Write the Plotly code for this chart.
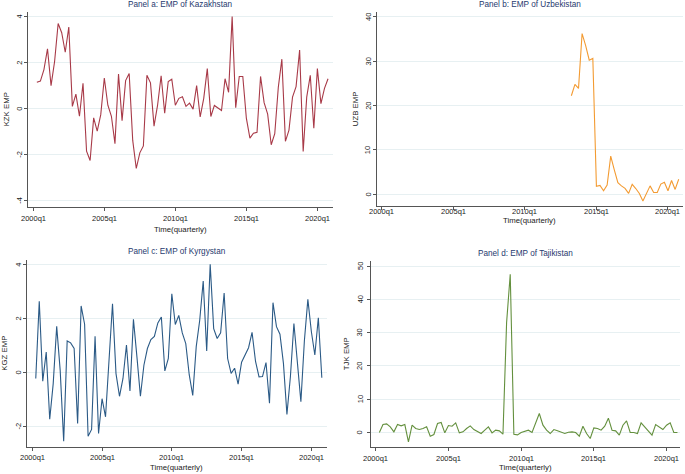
import plotly.graph_objects as go

# ---------------- data ----------------
quarters = [f"{y}q{q}" for y in range(2000, 2021) for q in range(1, 5)]  # index 0 = 2000q1
tick_labels = ["2000q1", "2005q1", "2010q1", "2015q1", "2020q1"]

kzk_emp = [1.15, 1.2, 1.7, 2.6, 1.0, 2.05, 3.7, 3.3, 2.45, 3.55,
           0.1, 0.63, -0.33, 1.1, -1.85, -2.25, -0.4, -0.98, -0.26, 1.33,
           0.15, -0.33, -1.52, 1.5, -0.52, 1.22, 1.53, -1.38, -2.6, -1.92,
           -1.62, 1.45, 1.12, -0.76, 0.15, 1.43, -0.2, 1.18, 1.28, 0.15,
           0.45, 0.52, 0.1, 0.24, -0.02, 1.0, -0.36, 0.45, 1.74, -0.34,
           0.14, 0.03, -0.08, 1.3, 0.71, 4.0, 0.04, 1.4, 1.4, -0.41,
           -1.28, -1.07, -1.03, 1.4, 0.26, -0.24, -1.57, -1.09, 0.93, 2.15,
           -1.42, -0.93, 0.5, 0.96, 2.55, -1.86, 0.5, 1.45, -0.85, 1.74,
           0.22, 0.88, 1.3]

uzb_emp = [22.2, 24.75, 23.85, 36.2, 33.5, 30.2, 30.6, 1.8, 2.0, 0.8,
           2.1, 8.6, 5.5, 2.6, 1.9, 1.35, 0.2, 2.25, 1.3, 0.2,
           -1.5, 0.2, 1.9, 0.4, 0.4, 2.3, 2.7, 0.8, 3.1, 1.1, 3.4]
uzb_start = quarters.index("2013q2")

kgz_emp = [-0.23, 2.63, -0.33, 0.75, -1.74, -0.42, 1.7, 0.07, -2.56, 1.16,
           1.09, 0.88, -1.9, 2.46, 1.78, -2.37, -2.12, 1.33, -2.27, -0.98,
           -1.65, 0.63, 2.54, -0.05, -0.89, -0.23, 1.01, -0.69, 1.96, 0.57,
           -0.89, 0.26, 0.88, 1.21, 1.33, 1.83, 2.05, 0.05, 0.51, 2.91,
           1.77, 2.11, 1.46, 1.06, -0.1, -0.86, 0.95, 1.93, 3.38, 0.79,
           4.0, 1.62, 1.25, 1.46, 2.94, 0.51, -0.04, 0.15, -0.44, 0.37,
           0.64, 0.91, 1.48, 0.4, -0.17, -0.16, 0.36, -1.15, 2.58, 1.69,
           1.41, 0.33, -1.56, -0.16, 1.81, 0.4, -1.09, 1.16, 2.7, 1.51,
           0.64, 2.02, -0.2]

tjk_emp = [0.0, 2.4, 2.6, 1.7, 0.2, 2.4, 2.0, 2.4, -2.8, 2.2,
           1.2, 0.9, 1.2, 1.7, -1.1, -0.6, 2.7, 3.0, -0.1, 2.1,
           1.9, 2.9, -0.1, 0.2, 1.2, 2.0, 0.9, 0.2, -0.3, 0.7,
           1.7, -0.1, 0.7, 0.5, -0.5, 33.0, 47.5, -0.5, -0.7, 0.0,
           0.4, 0.7, 0.0, 2.8, 5.7, 2.2, 0.7, -0.3, 0.9, 0.5,
           0.0, -0.3, 0.1, 0.2, 0.0, -1.1, 1.9, -0.3, -1.8, 1.4,
           1.2, 0.7, 1.9, 4.3, 0.7, 0.5, -0.8, 2.2, 3.5, 0.0,
           0.0, -0.3, 2.9, 1.7, 0.7, -0.8, 2.4, 1.7, 0.9, 2.2,
           2.9, 0.0, 0.0]
main_start = quarters.index("2000q2")

titles = ["Panel a: EMP of Kazakhstan", "Panel b: EMP of Uzbekistan",
          "Panel c: EMP of Kyrgystan", "Panel d: EMP of Tajikistan"]
ytitles = ["KZK EMP", "UZB EMP", "KGZ EMP", "TJK EMP"]
xtitle = "Time(quarterly)"

# ---------------- layout geometry (pixels) ----------------
W, H = 685, 474
FONT = "Liberation Sans, Arial, sans-serif"

panels = [
    dict(x0=28.0, x1=333.0, t0=-1.49, t1=84.4, ytop=12.0, ybot=206.7, yr=[-4.26, 4.2],
         yt=[-4, -2, 0, 2, 4], color="#a83a48",
         ylab_x=20.0, ytit_x=6.0, xlab_y=218.3, xtit_y=229.0, tit_y=5.0),
    dict(x0=376.7, x1=683.0, t0=-1.4, t1=84.2, ytop=12.0, ybot=206.3, yr=[-2.7, 41.06],
         yt=[0, 10, 20, 30, 40], color="#f39b32",
         ylab_x=368.3, ytit_x=355.0, xlab_y=211.5, xtit_y=220.5, tit_y=4.5),
    dict(x0=26.7, x1=326.7, t0=-1.6, t1=84.4, ytop=260.3, ybot=447.0, yr=[-2.77, 4.15],
         yt=[-2, 0, 2, 4], color="#2b5a86",
         ylab_x=18.3, ytit_x=5.0, xlab_y=457.7, xtit_y=467.0, tit_y=252.0),
    dict(x0=371.0, x1=680.0, t0=-1.3, t1=83.7, ytop=261.0, ybot=446.7, yr=[-4.26, 51.5],
         yt=[0, 10, 20, 30, 40, 50], color="#64903e",
         ylab_x=360.0, ytit_x=347.3, xlab_y=458.0, xtit_y=467.0, tit_y=253.5),
]

series = [
    (list(range(main_start, main_start + len(kzk_emp))), kzk_emp),
    (list(range(uzb_start, uzb_start + len(uzb_emp))), uzb_emp),
    (list(range(main_start, main_start + len(kgz_emp))), kgz_emp),
    (list(range(main_start, main_start + len(tjk_emp))), tjk_emp),
]

fig = go.Figure()
layout = dict(
    width=W, height=H, margin=dict(l=0, r=0, t=0, b=0),
    paper_bgcolor="white", plot_bgcolor="white", showlegend=False,
    font=dict(family=FONT, size=7.5, color="#222222"),
)
annotations = []
tickvals = [quarters.index(lbl) for lbl in tick_labels]

for i, (p, (xs, ys), title, ytit) in enumerate(zip(panels, series, titles, ytitles)):
    n = "" if i == 0 else str(i + 1)
    fig.add_trace(go.Scatter(x=xs, y=ys, mode="lines",
                             line=dict(color=p["color"], width=1.1),
                             xaxis="x" + n, yaxis="y" + n,
                             hovertext=[quarters[k] for k in xs]))
    layout["xaxis" + n] = dict(
        domain=[p["x0"] / W, p["x1"] / W], range=[p["t0"], p["t1"]],
        anchor="y" + n, tickvals=tickvals, ticktext=tick_labels,
        showline=True, linecolor="#555555", linewidth=1,
        ticks="outside", ticklen=3, tickcolor="#555555",
        showgrid=False, zeroline=False, showticklabels=False, fixedrange=True)
    layout["yaxis" + n] = dict(
        domain=[1 - p["ybot"] / H, 1 - p["ytop"] / H], range=p["yr"],
        anchor="x" + n, tickvals=p["yt"],
        showline=True, linecolor="#555555", linewidth=1,
        ticks="outside", ticklen=3, tickcolor="#555555",
        showgrid=True, gridcolor="#e7f0f2", gridwidth=1,
        zeroline=False, showticklabels=False, fixedrange=True)
    xc = (p["x0"] + p["x1"]) / 2
    # panel title
    annotations.append(dict(text=title, x=xc / W, y=1 - p["tit_y"] / H,
                            xref="paper", yref="paper", showarrow=False,
                            xanchor="center", yanchor="middle",
                            font=dict(size=8.2, color="#1f3a6e", family=FONT)))
    # x title
    annotations.append(dict(text=xtitle, x=xc / W, y=1 - p["xtit_y"] / H,
                            xref="paper", yref="paper", showarrow=False,
                            xanchor="center", yanchor="middle",
                            font=dict(size=7.8, color="#222222", family=FONT)))
    # y title
    annotations.append(dict(text=ytit, x=p["ytit_x"] / W,
                            y=1 - ((p["ytop"] + p["ybot"]) / 2) / H,
                            xref="paper", yref="paper", showarrow=False,
                            xanchor="center", yanchor="middle", textangle=-90,
                            font=dict(size=7.8, color="#222222", family=FONT)))
    # x tick labels (through the axis' own data coordinates)
    for tv, tl in zip(tickvals, tick_labels):
        annotations.append(dict(text=tl, x=tv, xref="x" + n,
                                y=1 - p["xlab_y"] / H, yref="paper",
                                showarrow=False, xanchor="center", yanchor="middle",
                                font=dict(size=7.5, color="#222222", family=FONT)))
    # y tick labels, rotated like the original
    for yv in p["yt"]:
        annotations.append(dict(text=str(yv), x=p["ylab_x"] / W, xref="paper",
                                y=yv, yref="y" + n, showarrow=False,
                                xanchor="center", yanchor="middle", textangle=-90,
                                font=dict(size=7.5, color="#222222", family=FONT)))

layout["annotations"] = annotations
fig.update_layout(**layout)
fig.write_html("out.html", config={"displayModeBar": False},
               post_script="document.body.style.margin='0';")
